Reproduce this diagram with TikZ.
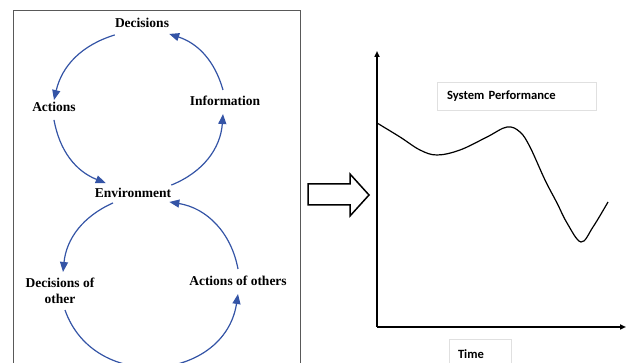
\documentclass[tikz,border=0pt]{standalone}
\usepackage{fontspec}
\setmainfont{Liberation Serif}
\newfontfamily\calib{Carlito}
\usetikzlibrary{arrows.meta, positioning}
\definecolor{loopblue}{RGB}{52,84,166}

\begin{document}
\begin{tikzpicture}[x=1pt, y=1pt,
  lbl/.style={font=\fontsize{13.5}{16}\selectfont\bfseries, inner sep=0pt},
  flow/.style={loopblue, line width=1.2pt, -{Triangle[length=10pt,width=8pt]}},
  axis/.style={black, line width=1.8pt, -{Triangle[length=6pt,width=5pt]}},
  tbox/.style={draw=black!12, font=\calib\fontsize{12.6}{14}\selectfont\bfseries, align=left}]
\clip (0,0) rectangle (626,363);

% left panel
\draw[black!65, line width=0.9pt] (13,-5) rectangle (300,353);

\node[lbl] (dec) at (142,340) {Decisions};
\node[lbl] (act) at (54,256) {Actions};
\node[lbl] (info) at (225,262) {Information};
\node[lbl] (env) at (133,170) {Environment};
\node[lbl, align=center] (deco) at (60,72) {Decisions of\\other};
\node[lbl] (acto) at (238,82) {Actions of others};

\draw[flow] ([yshift=-7pt]dec.south west) to[bend right=30] ([yshift=2pt]act.north);
\draw[flow] ([yshift=-8pt]act.south) to[bend right=29] ([xshift=11pt,yshift=5pt]env.north west);
\draw[flow] ([yshift=3pt]env.north east) to[bend right=32] ([xshift=-2pt,yshift=-8pt]info.south);
\draw[flow] ([xshift=-2pt,yshift=6pt]info.north) to[bend right=28] ([yshift=-6pt]dec.south east);
\draw[flow] ([xshift=-20pt,yshift=-5pt]env.south) to[bend right=30] ([xshift=3pt,yshift=6pt]deco.north);
\draw[flow] ([xshift=5pt,yshift=-6pt]deco.south) to[bend right=76, looseness=1.3] ([yshift=-8pt]acto.south);
\draw[flow] ([yshift=7pt]acto.north) to[bend right=35] ([xshift=-2pt,yshift=-4pt]env.south east);

% hollow arrow
\draw[black, line width=1.5pt, line join=miter]
  (308,179) -- (350,179) -- (350,189) -- (369,168) -- (350,147) -- (350,158) -- (308,158) -- cycle;

% right panel
\coordinate (orig) at (377,36);
\coordinate (ytip) at (377,312);
\coordinate (xtip) at (626,36);
\draw[axis] (orig) -- (ytip);
\draw[axis] (orig) -- (xtip);

\draw[black, line width=1.2pt] plot[smooth, tension=0.6] coordinates {
  (377,240) (400,226) (420,213) (437,208) (460,213) (487,226) (507,236)
  (520,231) (530,216) (545,183) (557,160) (567,140) (581,121) (593,136) (608,161)};

\node[tbox, minimum width=159pt, minimum height=28pt, text width=139pt, inner xsep=10pt] (perf) at (516.5,267) {System Performance};
\node[tbox, minimum width=62pt, minimum height=30pt, text width=44pt, inner xsep=9pt] (time) at (480,9) {Time};
\end{tikzpicture}
\end{document}
